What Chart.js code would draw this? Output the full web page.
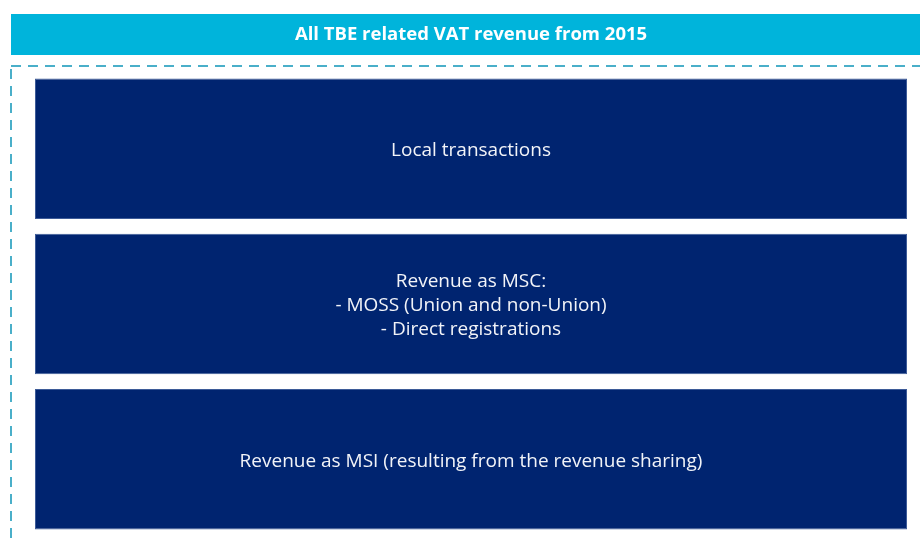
<!DOCTYPE html>
<html>
<head>
<meta charset="utf-8">
<script src="https://cdn.jsdelivr.net/npm/chart.js@4.4.1/dist/chart.umd.min.js"></script>
<style>
  html, body { margin: 0; padding: 0; background: #fff; }
  #wrap { width: 920px; height: 539px; position: relative; }
</style>
</head>
<body>
<div id="wrap"><canvas id="vatChart"></canvas></div>
<script>
// ── Data ──────────────────────────────────────────────
const headerText = 'All TBE related VAT revenue from 2015';
const categories = ['Local transactions', 'Revenue as MSC', 'Revenue as MSI'];
const boxLines = [
  ['Local transactions'],
  ['Revenue as MSC:', '- MOSS (Union and non-Union)', '- Direct registrations'],
  ['Revenue as MSI (resulting from the revenue sharing)'],
];
const boxSpans = [[0, 1], [0, 1], [0, 1]];

// ── Colours ───────────────────────────────────────────
const NAVY = '#002470';
const CYAN = '#00B4DB';
const DASH = '#4AAFC9';
const FONT = "'Open Sans', 'Liberation Sans', sans-serif";

// banner + dashed frame behind the boxes, labels on top
const framePlugin = {
  id: 'frame',
  beforeDraw(chart) {
    const ctx = chart.ctx;
    ctx.save();
    ctx.fillStyle = CYAN;
    ctx.fillRect(11, 14, 920, 41);
    ctx.fillStyle = '#ffffff';
    ctx.font = 'bold 18.5px ' + FONT;
    ctx.textAlign = 'center';
    ctx.textBaseline = 'middle';
    ctx.fillText(headerText, 471, 35);

    ctx.strokeStyle = DASH;
    ctx.lineWidth = 2;
    ctx.setLineDash([10, 7]);
    ctx.strokeRect(11, 66, 940, 520);
    ctx.restore();
  },
  afterDatasetsDraw(chart) {
    const ctx = chart.ctx;
    const meta = chart.getDatasetMeta(0);
    ctx.save();
    ctx.fillStyle = '#f2f4f8';
    ctx.font = '19px ' + FONT;
    ctx.textAlign = 'center';
    ctx.textBaseline = 'middle';
    meta.data.forEach((bar, i) => {
      const lines = boxLines[i];
      const cx = (bar.x + bar.base) / 2;
      const lh = 24;
      const y0 = bar.y + 2 - (lines.length - 1) * lh / 2;
      lines.forEach((t, j) => ctx.fillText(t, cx, y0 + j * lh));
    });
    ctx.restore();
  },
};

new Chart(document.getElementById('vatChart'), {
  type: 'bar',
  data: {
    labels: categories,
    datasets: [{
      data: boxSpans,
      backgroundColor: NAVY,
      borderColor: '#3d5b98',
      borderWidth: 1,
      borderSkipped: false,
      categoryPercentage: 1,
      barPercentage: 0.905,
    }],
  },
  options: {
    indexAxis: 'y',
    responsive: true,
    maintainAspectRatio: false,
    animation: false,
    layout: { padding: { left: 35, right: 13, top: 71, bottom: 2 } },
    plugins: {
      legend: { display: false },
      tooltip: { enabled: false },
    },
    scales: {
      x: { display: false, min: 0, max: 1 },
      y: { display: false },
    },
  },
  plugins: [framePlugin],
});
</script>
</body>
</html>
